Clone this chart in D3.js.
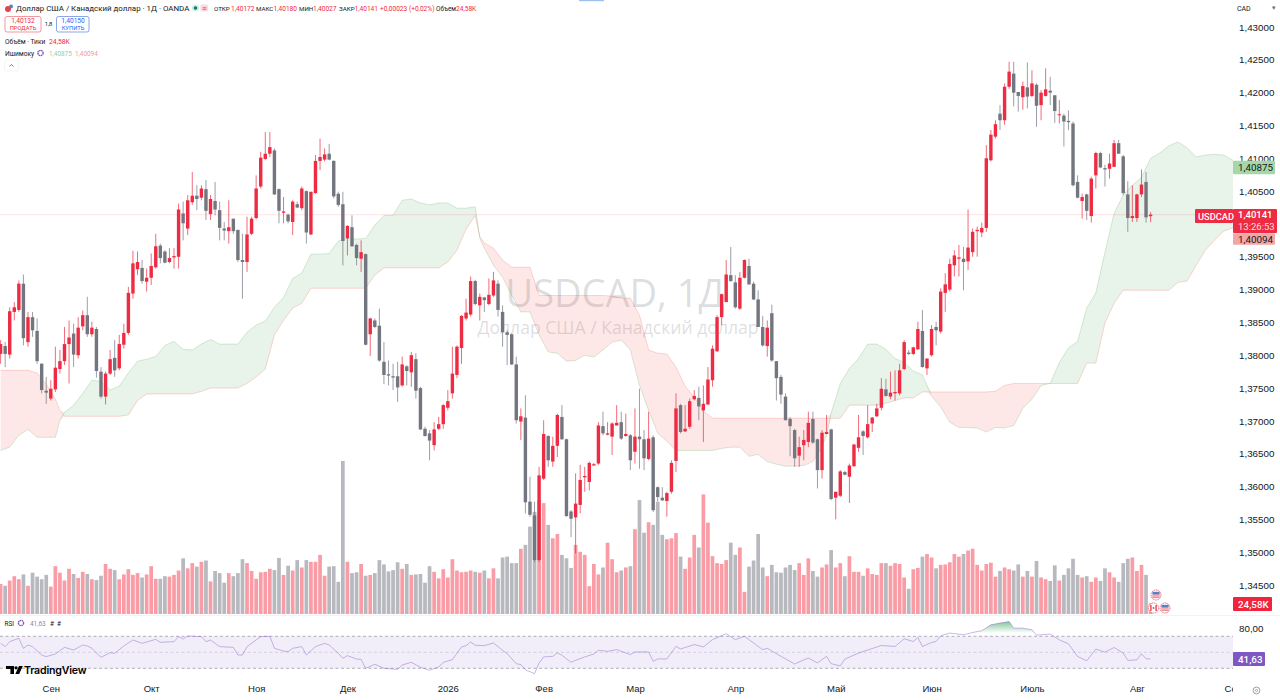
<!DOCTYPE html>
<html>
<head>
<meta charset="utf-8">
<title>USDCAD</title>
<script src="https://cdn.jsdelivr.net/npm/d3@7"></script>
<style>
  html, body { margin: 0; padding: 0; background: #fff; overflow: hidden; }
  svg { display: block; font-family: Roboto, "Noto Sans", sans-serif; }
  .tick text { fill: #131722; }
</style>
</head>
<body>
<svg width="1280" height="700"></svg>
<script>
const opens = [
  1.3802,1.3814,1.3801,1.3866,1.3869,1.3909,1.3820,1.3858,1.3837,1.3787,
  1.3746,1.3734,1.3748,1.3779,1.3791,1.3817,1.3833,1.3800,1.3844,1.3861,
  1.3832,1.3840,1.3775,1.3737,1.3772,1.3796,1.3780,1.3816,1.3834,1.3894,
  1.3931,1.3933,1.3912,1.3918,1.3934,1.3967,1.3958,1.3942,1.3949,1.3950,
  1.4016,1.3993,1.4033,1.4043,1.4040,1.4053,1.4015,1.4035,1.4021,1.3993,
  1.3989,1.4008,1.3991,1.3945,1.3942,1.3985,1.4009,1.4057,1.4099,1.4107,
  1.4112,1.4053,1.4017,1.4014,1.4003,1.4030,1.4024,1.4050,1.3984,1.4047,
  1.4096,1.4098,1.4107,1.4096,1.4046,1.4030,1.3978,1.3995,1.3968,1.3947,
  1.3954,1.3832,1.3853,1.3845,1.3790,1.3771,1.3768,1.3768,1.3754,1.3783,
  1.3774,1.3794,1.3750,1.3688,1.3681,1.3663,1.3688,1.3695,1.3720,1.3742,
  1.3770,1.3811,1.3856,1.3862,1.3913,1.3876,1.3888,1.3878,1.3891,1.3909,
  1.3866,1.3835,1.3832,1.3786,1.3699,1.3705,1.3577,1.3556,1.3488,1.3612,
  1.3677,1.3638,1.3662,1.3706,1.3672,1.3562,1.3553,1.3572,1.3614,1.3607,
  1.3632,1.3635,1.3692,1.3679,1.3676,1.3693,1.3698,1.3677,1.3678,1.3653,
  1.3676,1.3672,1.3642,1.3675,1.3599,1.3583,1.3578,1.3592,1.3639,1.3724,
  1.3684,1.3691,1.3733,1.3735,1.3716,1.3725,1.3762,1.3806,1.3858,1.3881,
  1.3922,1.3911,1.3871,1.3918,1.3936,1.3909,1.3885,1.3843,1.3814,1.3864,
  1.3791,1.3767,1.3737,1.3703,1.3686,1.3647,1.3663,1.3668,1.3703,1.3672,
  1.3625,1.3680,1.3687,1.3583,1.3586,1.3622,1.3615,1.3631,1.3659,1.3684,
  1.3675,1.3696,1.3707,1.3720,1.3748,1.3737,1.3742,1.3742,1.3779,1.3804,
  1.3802,1.3809,1.3837,1.3780,1.3800,1.3843,1.3836,1.3895,1.3900,1.3937,
  1.3947,1.3947,1.3943,1.3957,1.3989,1.3987,1.3994,1.4097,1.4133,1.4168,
  1.4158,1.4209,1.4229,1.4201,1.4193,1.4208,1.4195,1.4212,1.4181,1.4195,
  1.4203,1.4196,1.4166,1.4165,1.4157,1.4153,1.4064,1.4035,1.4045,1.4012,
  1.4074,1.4108,1.4085,1.4084,1.4087,1.4123,1.4103,1.4045,1.4009,1.4009,
  1.4045,1.4064,1.40118
];
const highs = [
  1.3823,1.3820,1.3873,1.3881,1.3914,1.3923,1.3866,1.3866,1.3856,1.3788,
  1.3767,1.3762,1.3813,1.3808,1.3843,1.3853,1.3848,1.3858,1.3868,1.3889,
  1.3851,1.3843,1.3782,1.3775,1.3808,1.3823,1.3831,1.3848,1.3904,1.3959,
  1.3958,1.3945,1.3932,1.3955,1.3985,1.3970,1.3960,1.3963,1.3963,1.4031,
  1.4034,1.4044,1.4079,1.4059,1.4059,1.4067,1.4044,1.4064,1.4034,1.4003,
  1.4036,1.4008,1.3991,1.3985,1.4011,1.4011,1.4074,1.4110,1.4140,1.4140,
  1.4115,1.4054,1.4041,1.4016,1.4036,1.4034,1.4057,1.4051,1.4049,1.4105,
  1.4130,1.4115,1.4122,1.4097,1.4049,1.4049,1.3998,1.4013,1.3970,1.3975,
  1.3955,1.3857,1.3856,1.3871,1.3820,1.3792,1.3787,1.3790,1.3798,1.3785,
  1.3805,1.3803,1.3752,1.3691,1.3686,1.3698,1.3706,1.3726,1.3747,1.3813,
  1.3815,1.3861,1.3886,1.3920,1.3915,1.3894,1.3889,1.3917,1.3927,1.3914,
  1.3876,1.3838,1.3833,1.3798,1.3719,1.3739,1.3615,1.3577,1.3630,1.3701,
  1.3678,1.3676,1.3711,1.3724,1.3673,1.3564,1.3620,1.3633,1.3630,1.3638,
  1.3636,1.3698,1.3714,1.3698,1.3698,1.3724,1.3714,1.3711,1.3680,1.3719,
  1.3749,1.3686,1.3714,1.3678,1.3600,1.3599,1.3592,1.3640,1.3742,1.3726,
  1.3724,1.3734,1.3747,1.3752,1.3754,1.3782,1.3815,1.3861,1.3894,1.3945,
  1.3965,1.3922,1.3927,1.3946,1.3947,1.3912,1.3899,1.3860,1.3853,1.3877,
  1.3791,1.3770,1.3742,1.3706,1.3688,1.3676,1.3686,1.3714,1.3714,1.3673,
  1.3686,1.3709,1.3688,1.3592,1.3625,1.3624,1.3635,1.3665,1.3709,1.3686,
  1.3724,1.3706,1.3726,1.3765,1.3764,1.3775,1.3777,1.3787,1.3823,1.3808,
  1.3813,1.3851,1.3869,1.3795,1.3846,1.3851,1.3902,1.3925,1.3947,1.3960,
  1.3968,1.3965,1.4022,1.3993,1.3996,1.4002,1.4120,1.4143,1.4158,1.4181,
  1.4214,1.4247,1.4247,1.4201,1.4217,1.4246,1.4234,1.4214,1.4204,1.4237,
  1.4224,1.4196,1.4189,1.4168,1.4173,1.4156,1.4074,1.4046,1.4046,1.4072,
  1.4110,1.4110,1.4090,1.4107,1.4128,1.4128,1.4105,1.4065,1.4059,1.4046,
  1.4083,1.4079,1.40180
];
const lows = [
  1.3787,1.3782,1.3795,1.3853,1.3866,1.3815,1.3813,1.3828,1.3787,1.3742,
  1.3726,1.3731,1.3744,1.3772,1.3785,1.3757,1.3782,1.3795,1.3838,1.3828,
  1.3828,1.3766,1.3734,1.3725,1.3770,1.3767,1.3777,1.3810,1.3831,1.3886,
  1.3922,1.3909,1.3897,1.3907,1.3932,1.3940,1.3940,1.3940,1.3932,1.3932,
  1.3975,1.3983,1.4029,1.4021,1.4036,1.4006,1.4006,1.4013,1.3975,1.3975,
  1.3970,1.3985,1.3942,1.3886,1.3927,1.3983,1.4007,1.4054,1.4097,1.4102,
  1.4044,1.4001,1.4001,1.4001,1.3983,1.4024,1.4021,1.3970,1.3983,1.4046,
  1.4082,1.4095,1.4097,1.4039,1.4026,1.3937,1.3952,1.3965,1.3937,1.3927,
  1.3815,1.3799,1.3841,1.3790,1.3756,1.3754,1.3747,1.3729,1.3752,1.3754,
  1.3752,1.3734,1.3686,1.3676,1.3640,1.3655,1.3686,1.3688,1.3716,1.3734,
  1.3765,1.3787,1.3853,1.3859,1.3876,1.3853,1.3866,1.3876,1.3889,1.3859,
  1.3813,1.3785,1.3785,1.3696,1.3671,1.3559,1.3554,1.3485,1.3485,1.3610,
  1.3630,1.3630,1.3645,1.3671,1.3554,1.3523,1.3498,1.3559,1.3592,1.3594,
  1.3632,1.3633,1.3678,1.3678,1.3648,1.3693,1.3671,1.3676,1.3625,1.3635,
  1.3627,1.3625,1.3640,1.3561,1.3577,1.3578,1.3554,1.3589,1.3622,1.3681,
  1.3683,1.3688,1.3731,1.3701,1.3668,1.3724,1.3752,1.3805,1.3846,1.3881,
  1.3912,1.3871,1.3869,1.3917,1.3907,1.3884,1.3843,1.3813,1.3798,1.3790,
  1.3731,1.3726,1.3701,1.3646,1.3630,1.3630,1.3640,1.3660,1.3665,1.3597,
  1.3612,1.3680,1.3579,1.3550,1.3584,1.3617,1.3575,1.3630,1.3653,1.3648,
  1.3673,1.3683,1.3706,1.3716,1.3737,1.3733,1.3731,1.3739,1.3777,1.3800,
  1.3800,1.3808,1.3781,1.3770,1.3798,1.3815,1.3833,1.3866,1.3897,1.3920,
  1.3920,1.3899,1.3930,1.3950,1.3950,1.3980,1.3988,1.4095,1.4130,1.4143,
  1.4151,1.4206,1.4179,1.4171,1.4174,1.4176,1.4193,1.4148,1.4158,1.4194,
  1.4181,1.4154,1.4153,1.4118,1.4143,1.4057,1.4039,1.4008,1.4006,1.4002,
  1.4054,1.4085,1.4057,1.4069,1.4087,1.4107,1.4044,1.3988,1.4003,1.4003,
  1.4041,1.4002,1.40027
];
const closes = [
  1.3817,1.3802,1.3867,1.3873,1.3909,1.3826,1.3858,1.3838,1.3791,1.3747,
  1.3743,1.3749,1.3781,1.3791,1.3817,1.3827,1.3801,1.3842,1.3861,1.3832,
  1.3842,1.3776,1.3737,1.3772,1.3794,1.3777,1.3817,1.3834,1.3895,1.3940,
  1.3942,1.3913,1.3918,1.3936,1.3966,1.3948,1.3941,1.3948,1.3951,1.4022,
  1.4001,1.4036,1.4043,1.4038,1.4054,1.4020,1.4038,1.4022,1.3994,1.3990,
  1.3995,1.3989,1.3945,1.3942,1.3984,1.4008,1.4054,1.4101,1.4107,1.4117,
  1.4045,1.4020,1.4019,1.4004,1.4034,1.4025,1.4054,1.3987,1.4049,1.4096,
  1.4102,1.4106,1.4098,1.4042,1.4029,1.3974,1.3997,1.3966,1.3948,1.3957,
  1.3816,1.3856,1.3843,1.3792,1.3770,1.3769,1.3766,1.3751,1.3786,1.3776,
  1.3800,1.3746,1.3687,1.3677,1.3670,1.3687,1.3695,1.3724,1.3730,1.3772,
  1.3813,1.3860,1.3865,1.3913,1.3878,1.3889,1.3884,1.3892,1.3914,1.3869,
  1.3835,1.3831,1.3786,1.3701,1.3707,1.3576,1.3557,1.3488,1.3617,1.3680,
  1.3640,1.3662,1.3709,1.3672,1.3555,1.3551,1.3574,1.3610,1.3616,1.3636,
  1.3634,1.3693,1.3681,1.3681,1.3696,1.3697,1.3673,1.3680,1.3640,1.3676,
  1.3672,1.3643,1.3673,1.3564,1.3584,1.3579,1.3590,1.3636,1.3719,1.3683,
  1.3688,1.3730,1.3738,1.3722,1.3726,1.3763,1.3810,1.3858,1.3893,1.3923,
  1.3913,1.3873,1.3918,1.3945,1.3908,1.3885,1.3843,1.3815,1.3842,1.3792,
  1.3765,1.3740,1.3701,1.3692,1.3643,1.3660,1.3671,1.3697,1.3667,1.3625,
  1.3682,1.3683,1.3581,1.3592,1.3623,1.3618,1.3632,1.3664,1.3675,1.3677,
  1.3695,1.3705,1.3719,1.3749,1.3738,1.3743,1.3744,1.3777,1.3820,1.3802,
  1.3812,1.3840,1.3782,1.3795,1.3840,1.3838,1.3897,1.3908,1.3939,1.3952,
  1.3949,1.3942,1.3964,1.3988,1.3991,1.3994,1.4100,1.4136,1.4152,1.4158,
  1.4209,1.4232,1.4200,1.4195,1.4210,1.4194,1.4214,1.4180,1.4200,1.4205,
  1.4200,1.4172,1.4167,1.4156,1.4155,1.4059,1.4040,1.4041,1.4020,1.4069,
  1.4108,1.4086,1.4083,1.4092,1.4123,1.4107,1.4047,1.4009,1.4012,1.4045,
  1.4060,1.4010,1.40141
];
// tick volume, thousands
const volumes = [
  69,65,77,87,80,91,65,95,86,80,
  90,63,110,95,77,104,92,83,97,92,
  80,78,88,115,104,101,80,91,103,90,
  94,84,91,110,81,81,87,86,90,100,
  128,105,117,109,120,123,75,99,94,72,
  94,87,94,126,117,99,81,96,97,104,
  101,129,90,111,100,124,107,124,120,120,
  136,88,109,110,74,352,120,94,96,115,
  88,90,94,124,114,98,101,119,104,115,
  90,91,92,72,110,97,82,103,84,126,
  100,96,97,100,97,95,100,82,105,82,
  130,132,117,117,150,159,201,235,262,255,
  205,174,184,136,128,106,159,143,136,64,
  115,91,107,164,126,96,100,107,110,195,
  262,187,211,205,258,182,172,174,186,132,
  104,130,182,153,275,210,133,117,115,124,
  164,136,153,51,109,123,184,107,87,113,
  96,95,107,113,101,117,90,128,99,86,
  107,114,147,107,117,87,133,97,97,88,
  105,92,90,117,117,111,117,115,84,58,
  103,106,132,138,130,105,113,114,119,138,
  132,138,146,150,113,100,115,118,86,99,
  107,103,100,114,86,99,86,122,84,80,
  76,112,77,90,105,127,90,84,87,74,
  84,76,105,96,84,74,117,127,130,99,
  113,90,24.58
];

// ichimoku lead lines, read at these bars
const cloudDays = [0,2,4,6,8,10,12,13,14,16,18,20,22,24,26,28,30,32,34,36,38,40,42,44,46,48,50,52,54,56,58,60,62,64,66,68,70,72,74,76,78,80,82,84,86,88,90,92,94,96,98,100,102,104,105,106,108,110,112,114,116,118,120,122,124,126,128,130,132,134,136,138,140,142,144,146,148,150,152,154,156,158,160,162,164,166,168,170,172,174,176,178,180,181,182,184,186,188,190,192,194,196,198,200,202,203,204,206,208,210,212,214,216,218,220,222,224,226,228,230,232,234,236,238,240,242,244,246,248,250,252,254,256,258,260,262,264,266,268,270,272,277];
const spanA = [1.3655,1.3660,1.3678,1.3687,1.3675,1.3675,1.3675,1.3701,1.3713,1.3724,1.3742,1.3762,1.3760,1.3747,1.3753,1.3773,1.3791,1.3794,1.3798,1.3815,1.3821,1.3809,1.3808,1.3817,1.3824,1.3817,1.3817,1.3817,1.3835,1.3846,1.3852,1.3873,1.3888,1.3917,1.3925,1.3954,1.3954,1.3955,1.3974,1.3978,1.3977,1.3978,1.3998,1.4013,1.4013,1.4036,1.4038,1.4032,1.4029,1.4032,1.4032,1.4024,1.4024,1.4026,1.3978,1.3963,1.3937,1.3919,1.3891,1.3866,1.3866,1.3831,1.3805,1.3803,1.3791,1.3792,1.3800,1.3797,1.3808,1.3820,1.3823,1.3808,1.3754,1.3716,1.3681,1.3669,1.3655,1.3655,1.3655,1.3655,1.3655,1.3658,1.3660,1.3660,1.3646,1.3649,1.3638,1.3634,1.3631,1.3631,1.3632,1.3638,1.3661,1.3678,1.3712,1.3757,1.3780,1.3795,1.3817,1.3817,1.3809,1.3795,1.3789,1.3776,1.3770,1.3754,1.3738,1.3721,1.3698,1.3690,1.3690,1.3689,1.3683,1.3690,1.3689,1.3693,1.3719,1.3733,1.3754,1.3757,1.3789,1.3811,1.3821,1.3872,1.3895,1.3957,1.4016,1.4044,1.4059,1.4071,1.4100,1.4108,1.4119,1.4125,1.4116,1.4102,1.4105,1.4106,1.4105,1.4097,1.4093,1.40875];
const spanB = [1.3777,1.3777,1.3777,1.3777,1.3773,1.3756,1.3733,1.3716,1.3707,1.3707,1.3707,1.3707,1.3707,1.3707,1.3707,1.3709,1.3731,1.3741,1.3741,1.3741,1.3741,1.3741,1.3741,1.3745,1.3750,1.3750,1.3750,1.3750,1.3757,1.3767,1.3779,1.3831,1.3853,1.3872,1.3879,1.3902,1.3902,1.3902,1.3902,1.3902,1.3902,1.3902,1.3922,1.3933,1.3933,1.3933,1.3933,1.3933,1.3933,1.3933,1.3942,1.3960,1.3992,1.4013,1.3981,1.3971,1.3963,1.3945,1.3934,1.3934,1.3934,1.3891,1.3891,1.3891,1.3891,1.3891,1.3891,1.3891,1.3891,1.3890,1.3887,1.3887,1.3861,1.3808,1.3803,1.3802,1.3782,1.3753,1.3736,1.3715,1.3704,1.3704,1.3704,1.3704,1.3704,1.3704,1.3704,1.3704,1.3704,1.3704,1.3704,1.3704,1.3704,1.3704,1.3704,1.3704,1.3724,1.3724,1.3724,1.3724,1.3727,1.3731,1.3735,1.3735,1.3744,1.3744,1.3744,1.3744,1.3744,1.3744,1.3744,1.3744,1.3744,1.3745,1.3754,1.3757,1.3757,1.3757,1.3757,1.3757,1.3757,1.3757,1.3757,1.3788,1.3788,1.3849,1.3879,1.3899,1.3899,1.3899,1.3899,1.3899,1.3899,1.3911,1.3913,1.3937,1.3960,1.3975,1.3989,1.3994,1.4003,1.40094];

// RSI turning points
const rsiDays = [0,1,2,4,5,6,7,9,10,12,14,16,18,19,20,22,24,25,27,29,31,34,35,38,39,40,41,44,45,46,48,51,52,53,54,57,59,60,62,63,64,66,67,69,71,72,74,75,76,78,79,80,82,84,87,88,90,92,94,96,97,99,101,102,103,104,106,108,110,111,113,114,115,117,118,119,121,122,123,125,126,128,130,131,133,135,138,139,141,142,143,144,146,148,149,152,154,156,159,161,163,167,168,171,174,177,179,181,182,184,185,188,189,193,196,198,200,201,202,204,205,206,208,211,214,215,217,219,221,222,224,226,227,230,232,234,236,238,240,242,244,246,247,249,250,251,252];
const rsiValues = [61.2,57.1,63.3,67.5,55,59.1,57.1,46.6,44.6,47.9,56.2,52.9,59.1,57.9,55,43.7,49.6,48.7,57.9,65.4,61.2,66.2,62.5,63.3,69.6,66.6,70.4,69.6,63.3,65.4,57.1,56.2,46.6,46.6,57.1,69.6,70,55,51.6,50.8,55,57.1,46.6,57.1,61.2,59.1,48.7,42.5,45.8,41.6,41.2,30,35,30,28.7,34.1,37.5,31.2,27.5,31.7,37.5,40.8,56.7,58.3,62.9,58.8,58.3,61.7,52.5,48.3,35.8,34.6,28.3,23.3,36.7,44.2,45,49.2,46.3,37.5,40,44.2,47.9,52.5,51.2,53.3,47.1,50.4,50.4,50.4,38.8,41.7,41.7,57.5,54.2,59.6,56.7,65.8,73.3,65.8,70,53.3,55,45,35.4,42.9,36.7,45,35.8,33,41.5,49,51,58.5,57.3,66.9,63.5,68.5,57.3,62.3,63.5,70.6,74,71.9,76,76.9,84.4,86.5,88.5,80.2,80.2,78.1,71.5,72.7,65.6,60.6,44.8,39.4,54,50.2,56,49,39.8,40.6,48.1,41.9,41.63];

const priceTicks = [1.345,1.35,1.355,1.36,1.365,1.37,1.375,1.38,1.385,1.39,1.395,1.4,1.405,1.41,1.415,1.42,1.425,1.43];
const monthDays = [11,33,56,76,98,119,139,161,183,204,226,249,270];
const monthNames = ["Сен","Окт","Ноя","Дек","2026","Фев","Мар","Апр","Май","Июн","Июль","Авг","Сен"];

const upColor = "#ed2b42";
const downColor = "#73757f";
const comma = v => d3.format(".5f")(v).replace(".", ",");

const svg = d3.select("svg");
const chartRight = 1233;

const x = d3.scaleLinear().domain([0, 252]).range([0.6, 1150.6]);
const y = d3.scaleLinear().domain([1.345, 1.43]).range([585, 27]);
const yVol = d3.scaleLinear().domain([0, 230]).range([614, 514]);
const yRsi = d3.scaleLinear().domain([30, 70]).range([668.3, 636.3]);

svg.append("defs").append("clipPath").attr("id", "plot")
  .append("rect").attr("width", chartRight).attr("height", 700);
const grad = svg.select("defs").append("linearGradient").attr("id", "obFill")
  .attr("gradientUnits", "userSpaceOnUse")
  .attr("x1", 0).attr("x2", 0).attr("y1", yRsi(90)).attr("y2", yRsi(74));
grad.append("stop").attr("offset", "0%").attr("stop-color", "#2e9e55").attr("stop-opacity", 0.65);
grad.append("stop").attr("offset", "100%").attr("stop-color", "#2e9e55").attr("stop-opacity", 0);

const plot = svg.append("g").attr("clip-path", "url(#plot)");

// watermark
const mark = plot.append("g").attr("fill", "#787b86").attr("fill-opacity", 0.25).attr("text-anchor", "middle")
  .style("font-family", "'Open Sans', sans-serif");
mark.append("text").attr("x", 615).attr("y", 307).attr("font-size", 38).text("USDCAD, 1Д");
mark.append("text").attr("x", 618).attr("y", 334).attr("font-size", 17.6).text("Доллар США / Канадский доллар");

// ichimoku cloud
const cloud = cloudDays.map((d, i) => ({ d, a: spanA[i], b: spanB[i] }));
const cloudArea = top => d3.area().x(c => x(c.d)).y0(c => y(c.b)).y1(c => y(top(c.a, c.b)));
plot.append("path").datum(cloud).attr("fill", "#43a047").attr("fill-opacity", 0.12).attr("d", cloudArea(Math.max));
plot.append("path").datum(cloud).attr("fill", "#f44336").attr("fill-opacity", 0.12).attr("d", cloudArea(Math.min));
plot.append("path").datum(cloud).attr("fill", "none").attr("stroke", "#43a047").attr("stroke-opacity", 0.3).attr("stroke-width", 0.7)
  .attr("d", d3.line().x(c => x(c.d)).y(c => y(c.a)));
plot.append("path").datum(cloud).attr("fill", "none").attr("stroke", "#f44336").attr("stroke-opacity", 0.3).attr("stroke-width", 0.7)
  .attr("d", d3.line().x(c => x(c.d)).y(c => y(c.b)));

// last price line
svg.append("line").attr("x1", 0).attr("x2", 1195).attr("y1", y(1.40141)).attr("y2", y(1.40141))
  .attr("stroke", "#f23645").attr("stroke-opacity", 0.18).attr("stroke-width", 0.8);

// volume
const days = d3.range(closes.length);
plot.append("g").selectAll("rect").data(days).join("rect")
  .attr("x", i => x(i) - 1.85)
  .attr("width", 3.7)
  .attr("y", i => yVol(volumes[i]))
  .attr("height", i => yVol(0) - yVol(volumes[i]))
  .attr("fill", i => closes[i] >= opens[i] ? "#f99ca5" : "#b7b9bf");

// candles
const candle = plot.append("g").selectAll("g").data(days).join("g")
  .attr("fill", i => closes[i] >= opens[i] ? upColor : downColor)
  .attr("stroke", i => closes[i] >= opens[i] ? upColor : downColor);
candle.append("line")
  .attr("x1", i => x(i)).attr("x2", i => x(i))
  .attr("y1", i => y(highs[i])).attr("y2", i => y(lows[i]))
  .attr("stroke-width", 0.7);
candle.append("rect")
  .attr("x", i => x(i) - 1.7)
  .attr("width", 3.4)
  .attr("y", i => y(Math.max(opens[i], closes[i])))
  .attr("height", i => Math.max(1, Math.abs(y(opens[i]) - y(closes[i]))))
  .attr("stroke", "none");

// event flags
function flag(cx, cy, canada) {
  const g = svg.append("g").attr("transform", `translate(${cx},${cy})`);
  g.append("circle").attr("r", 5).attr("fill", "#fff").attr("stroke", "#ee6f7c").attr("stroke-width", 1).attr("stroke-dasharray", "1.6 0.7");
  if (canada) {
    g.append("rect").attr("x", -3.3).attr("y", -3).attr("width", 1.4).attr("height", 6).attr("fill", "#e8404f");
    g.append("rect").attr("x", 1.9).attr("y", -3).attr("width", 1.4).attr("height", 6).attr("fill", "#e8404f");
    g.append("circle").attr("r", 0.9).attr("fill", "#e8404f");
  } else {
    g.append("rect").attr("x", -3.6).attr("y", -0.6).attr("width", 7.2).attr("height", 3.4).attr("fill", "#e97c86");
    g.append("rect").attr("x", -3.6).attr("y", -3.2).attr("width", 7.2).attr("height", 2.6).attr("fill", "#5c7fc4");
    g.append("rect").attr("x", -3.6).attr("y", 0.6).attr("width", 7.2).attr("height", 0.8).attr("fill", "#fff");
  }
}
flag(1156, 595, false);
flag(1153.5, 608, true);
flag(1165, 608, false);

svg.append("line").attr("x1", 0).attr("x2", 1280).attr("y1", 615.5).attr("y2", 615.5).attr("stroke", "#f0f3fa");

// RSI pane
const rsiPane = plot.append("g");
rsiPane.append("rect").attr("x", 0).attr("width", chartRight)
  .attr("y", yRsi(70)).attr("height", yRsi(30) - yRsi(70))
  .attr("fill", "#7e57c2").attr("fill-opacity", 0.1);
rsiPane.selectAll("line").data([70, 50, 30]).join("line")
  .attr("x1", 0).attr("x2", chartRight)
  .attr("y1", d => yRsi(d)).attr("y2", d => yRsi(d))
  .attr("stroke", d => d === 50 ? "#c9c3d6" : "#8f8f99").attr("stroke-width", 0.7).attr("stroke-dasharray", "3 2.5");

const rsiPts = rsiDays.map((d, i) => ({ d, v: rsiValues[i] }));
// overbought fill, only the part above 70
const obClip = svg.select("defs").append("clipPath").attr("id", "ob");
obClip.append("rect").attr("x", 0).attr("y", 615).attr("width", chartRight).attr("height", yRsi(70) - 615);
rsiPane.append("path").datum(rsiPts).attr("clip-path", "url(#ob)").attr("fill", "url(#obFill)")
  .attr("d", d3.area().x(p => x(p.d)).y0(yRsi(70)).y1(p => yRsi(p.v)));
rsiPane.append("path").datum(rsiPts).attr("fill", "none").attr("stroke", "#7e57c2").attr("stroke-opacity", 0.6).attr("stroke-width", 0.7)
  .attr("d", d3.line().x(p => x(p.d)).y(p => yRsi(p.v)));

// axes
const priceAxis = d3.axisRight(y).tickValues(priceTicks).tickSize(0).tickPadding(0).tickFormat(comma);
const rsiAxis = d3.axisRight(yRsi).tickValues([80]).tickSize(0).tickPadding(0).tickFormat(v => d3.format(".2f")(v).replace(".", ","));
const timeAxis = d3.axisBottom(x).tickValues(monthDays).tickSize(0).tickPadding(0)
  .tickFormat((d, i) => monthNames[i]);

svg.append("g").attr("transform", "translate(1239,0)").call(priceAxis)
  .call(g => g.select(".domain").remove())
  .selectAll("text").attr("font-size", 9.8);
svg.append("g").attr("transform", "translate(1239,0)").call(rsiAxis)
  .call(g => g.select(".domain").remove())
  .selectAll("text").attr("font-size", 9.8);
plot.append("g").attr("transform", "translate(0,685)").call(timeAxis)
  .call(g => g.select(".domain").remove())
  .selectAll("text").attr("font-size", 9.5);

// price scale labels
function priceTag(x0, x1, yc, h, fill, color, txt, bold) {
  svg.append("rect").attr("x", x0).attr("y", yc - h / 2).attr("width", x1 - x0).attr("height", h).attr("fill", fill).attr("rx", 1);
  svg.append("text").attr("x", x0 + 5).attr("y", yc + 3.5).attr("font-size", 9.8)
    .attr("fill", color).attr("font-weight", bold ? 500 : 400).text(txt);
}
priceTag(1233, 1275, 167.5, 13.5, "#a7d6a9", "#131722", comma(spanA[spanA.length - 1]));
priceTag(1233, 1275, 239, 11.5, "#f3a6a6", "#131722", comma(spanB[spanB.length - 1]));
svg.append("rect").attr("x", 1233).attr("y", 209).attr("width", 44).attr("height", 24).attr("fill", upColor).attr("rx", 1);
svg.append("text").attr("x", 1238).attr("y", 218).attr("font-size", 9.5).attr("fill", "#fff").attr("font-weight", 500).text(comma(closes[closes.length - 1]));
svg.append("text").attr("x", 1238).attr("y", 229.5).attr("font-size", 9.5).attr("fill", "#fff").attr("fill-opacity", 0.85).text("13:26:53");
svg.append("rect").attr("x", 1195).attr("y", 209).attr("width", 38).attr("height", 14).attr("fill", upColor).attr("rx", 1);
svg.append("text").attr("x", 1198).attr("y", 219.5).attr("font-size", 9.3).attr("fill", "#fff").attr("font-weight", 500).text("USDCAD");
priceTag(1233, 1272, 604, 14, "#f0243c", "#fff", "24,58K", true);
priceTag(1233, 1265, 659, 14, "#7e57c2", "#fff", "41,63", true);

// top scale bits
svg.append("rect").attr("x", 579).attr("y", 0).attr("width", 25).attr("height", 1.2).attr("fill", "#9cc0f0");
svg.append("text").attr("x", 1237).attr("y", 10.5).attr("font-size", 7).attr("fill", "#131722").text("CAD");
svg.append("text").attr("x", 1272).attr("y", 10).attr("font-size", 7).attr("fill", "#6a6d78").text("▾");

// legend
const legend = svg.append("g").attr("fill", "#131722");
legend.append("circle").attr("cx", 8).attr("cy", 9).attr("r", 3).attr("fill", "#e8404f");
legend.append("circle").attr("cx", 11).attr("cy", 6.5).attr("r", 2).attr("fill", "#5c7fc4");
legend.append("text").attr("x", 16).attr("y", 11.2).attr("font-size", 7.9).text("Доллар США / Канадский доллар · 1Д · OANDA");
legend.append("circle").attr("cx", 195.5).attr("cy", 8).attr("r", 3.6).attr("fill", "#cfeee6");
legend.append("circle").attr("cx", 195.5).attr("cy", 8).attr("r", 1.8).attr("fill", "#087f6a");
legend.append("rect").attr("x", 200.5).attr("y", 4.5).attr("width", 7.5).attr("height", 7).attr("rx", 1.5).attr("fill", "#fad9dc");
legend.append("text").attr("x", 204.2).attr("y", 10.5).attr("font-size", 7).attr("text-anchor", "middle").attr("fill", "#ed2b42").text("≡");

const ohlc = [
  [214, "ОТКР", 231, "1,40172"],
  [256, "МАКС", 273.5, "1,40180"],
  [299, "МИН", 313, "1,40027"],
  [339, "ЗАКР", 354.5, "1,40141"]
];
ohlc.forEach(o => {
  legend.append("text").attr("x", o[0]).attr("y", 10.5).attr("font-size", 6.2).text(o[1]);
  legend.append("text").attr("x", o[2]).attr("y", 10.5).attr("font-size", 6.6).attr("fill", "#ed2b42").text(o[3]);
});
legend.append("text").attr("x", 380).attr("y", 10.5).attr("font-size", 6.6).attr("fill", "#ed2b42").text("+0,00023 (+0,02%)");
legend.append("text").attr("x", 436).attr("y", 10.5).attr("font-size", 6.4).text("Объем");
legend.append("text").attr("x", 456).attr("y", 10.5).attr("font-size", 6.6).attr("fill", "#ed2b42").text("24,58K");

legend.append("rect").attr("x", 5).attr("y", 16.5).attr("width", 36).attr("height", 15.5).attr("rx", 2).attr("fill", "#fff").attr("stroke", "#ee6b78").attr("stroke-width", 0.7);
legend.append("text").attr("x", 23).attr("y", 23).attr("font-size", 6.6).attr("text-anchor", "middle").attr("fill", "#ed2b42").text("1,40132");
legend.append("text").attr("x", 23).attr("y", 30).attr("font-size", 5.8).attr("text-anchor", "middle").attr("fill", "#ed2b42").text("ПРОДАТЬ");
legend.append("text").attr("x", 48.5).attr("y", 26).attr("font-size", 5.8).attr("text-anchor", "middle").text("1,8");
legend.append("rect").attr("x", 56.5).attr("y", 16.5).attr("width", 32.5).attr("height", 15.5).attr("rx", 2).attr("fill", "#fff").attr("stroke", "#5a7fdc").attr("stroke-width", 0.7);
legend.append("text").attr("x", 73).attr("y", 23).attr("font-size", 6.6).attr("text-anchor", "middle").attr("fill", "#2962ff").text("1,40150");
legend.append("text").attr("x", 73).attr("y", 30).attr("font-size", 5.8).attr("text-anchor", "middle").attr("fill", "#2962ff").text("КУПИТЬ");

legend.append("text").attr("x", 5).attr("y", 44).attr("font-size", 6.6).text("Объём · Тики");
legend.append("text").attr("x", 49).attr("y", 44).attr("font-size", 6.8).attr("fill", "#ed2b42").text("24,58K");
legend.append("text").attr("x", 5).attr("y", 56).attr("font-size", 6.6).text("Ишимоку");
legend.append("circle").attr("cx", 40.5).attr("cy", 53).attr("r", 2.6).attr("fill", "none").attr("stroke", "#7e57c2").attr("stroke-width", 1.4).attr("stroke-dasharray", "1.6 0.5");
legend.append("text").attr("x", 49).attr("y", 56).attr("font-size", 6.4).attr("fill", "#9ccc9f").text("1,40875");
legend.append("text").attr("x", 75).attr("y", 56).attr("font-size", 6.4).attr("fill", "#f09a9a").text("1,40094");
legend.append("rect").attr("x", 4.5).attr("y", 60).attr("width", 14).attr("height", 11).attr("rx", 2).attr("fill", "#fff").attr("stroke", "#eceff5").attr("stroke-width", 0.7);
legend.append("path").attr("d", "M9.5 66.5 L11.5 64.5 L13.5 66.5").attr("fill", "none").attr("stroke", "#444").attr("stroke-width", 0.7);

legend.append("text").attr("x", 4.5).attr("y", 625.5).attr("font-size", 6.4).text("RSI");
legend.append("circle").attr("cx", 21).attr("cy", 623).attr("r", 2.6).attr("fill", "none").attr("stroke", "#7e57c2").attr("stroke-width", 1.4).attr("stroke-dasharray", "1.6 0.5");
legend.append("text").attr("x", 30).attr("y", 625.5).attr("font-size", 6.4).attr("fill", "#8f7cc0").text("41,63");
legend.append("text").attr("x", 50).attr("y", 625.5).attr("font-size", 6.4).text("#");
legend.append("text").attr("x", 57).attr("y", 625.5).attr("font-size", 6.4).text("#");

// tradingview logo
legend.append("path").attr("d", "M6 666 H14 V674 H10.4 V669 H6 Z").attr("fill", "#000");
legend.append("circle").attr("cx", 16).attr("cy", 667.8).attr("r", 1.6).attr("fill", "#000");
legend.append("path").attr("d", "M19 666 H22.8 L19.2 674 H15.3 Z").attr("fill", "#000");
legend.append("text").attr("x", 24).attr("y", 674).attr("font-size", 10.6).attr("font-weight", 600).attr("fill", "#000").style("font-family", "Inter, Roboto, sans-serif").attr("letter-spacing", -0.2).text("TradingView");

// settings icon bottom right
legend.append("circle").attr("cx", 1256.5).attr("cy", 690.5).attr("r", 3.4).attr("fill", "none").attr("stroke", "#777").attr("stroke-width", 0.7);
legend.append("circle").attr("cx", 1256.5).attr("cy", 690.5).attr("r", 1.1).attr("fill", "none").attr("stroke", "#777").attr("stroke-width", 0.6);
</script>
</body>
</html>
